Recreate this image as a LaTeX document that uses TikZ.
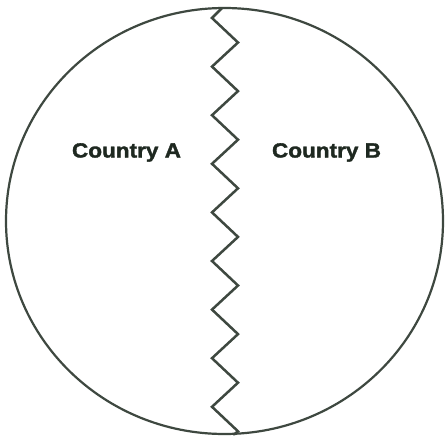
\documentclass[tikz,border=0pt]{standalone}
\usepackage{fontspec}
\setmainfont{Liberation Sans}
\newfontfamily\heavyfont[FakeBold=1.6]{Liberation Sans Bold}
\definecolor{inkline}{RGB}{62,72,64}
\definecolor{inktext}{RGB}{30,40,32}
\tikzset{
  border/.style={draw=inkline, line width=2.2pt},
  zig/.style={draw=inkline, line width=2.5pt, line join=miter, line cap=round},
  country/.style={text=inktext, font=\fontsize{20.5}{24}\heavyfont, inner sep=0pt, xscale=1.1, anchor=base}
}
\begin{document}
\begin{tikzpicture}[x=1pt,y=-1pt]
\useasboundingbox (0,0) rectangle (445,440);
\fill[white] (0,0) rectangle (445,440);
\draw[border] (224.5,221) ellipse [x radius=218.5, y radius=213];
\node[country] (a) at (126.5,157.5) {Country A};
\node[country] (b) at (326.5,157.5) {Country B};
\draw[zig] (222,8)
  \foreach \k in {0,...,8} {
    -- (212,{18+48.6*\k}) -- (238,{42.5+48.6*\k})
  } -- (234,434.5);
\end{tikzpicture}
\end{document}
